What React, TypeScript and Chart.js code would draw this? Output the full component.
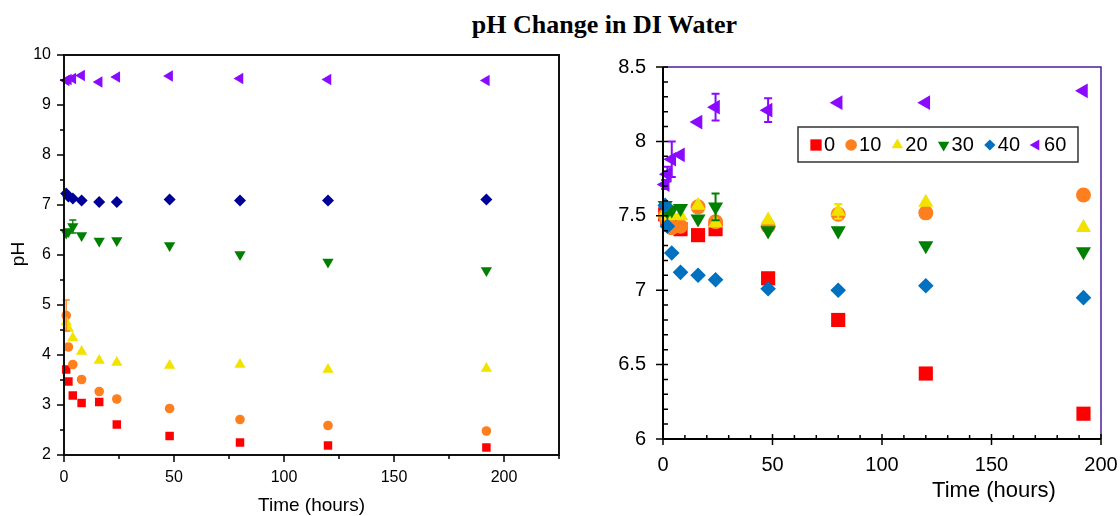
import React, { useEffect, useRef } from 'react';
import { Chart, registerables } from 'chart.js';
import { drawPoint } from 'chart.js/helpers';

Chart.register(...registerables);

// ---------- data ----------
const times = [1, 2, 4, 8, 16, 24, 48, 80, 120, 192];
const seriesNames = ['0', '10', '20', '30', '40', '60'];

// Left panel (full pH range)
const leftPh0 = [3.71, 3.47, 3.19, 3.04, 3.06, 2.61, 2.38, 2.25, 2.19, 2.15];
const leftPh10 = [4.79, 4.16, 3.81, 3.51, 3.27, 3.12, 2.93, 2.71, 2.59, 2.48];
const leftPh20 = [4.66, 4.53, 4.34, 4.07, 3.89, 3.85, 3.79, 3.81, 3.71, 3.73];
const leftPh30 = [6.44, 6.47, 6.57, 6.39, 6.28, 6.29, 6.19, 6.01, 5.86, 5.69];
const leftPh40 = [7.23, 7.17, 7.13, 7.09, 7.06, 7.06, 7.11, 7.09, 7.09, 7.11];
const leftPh60 = [9.49, 9.51, 9.53, 9.59, 9.46, 9.56, 9.58, 9.53, 9.51, 9.49];
const leftErr10 = [0.31, 0, 0, 0, 0, 0, 0, 0, 0, 0];
const leftErr30 = [0, 0, 0.13, 0, 0, 0, 0, 0, 0, 0];

// Right panel (zoomed pH range)
const rightPh0 = [7.51, 7.48, 7.44, 7.41, 7.37, 7.41, 7.08, 6.8, 6.44, 6.17];
const rightPh10 = [7.5, 7.47, 7.42, 7.43, 7.56, 7.46, 7.43, 7.51, 7.52, 7.64];
const rightPh20 = [7.52, 7.5, 7.51, 7.5, 7.57, 7.45, 7.47, 7.53, 7.59, 7.42];
const rightPh30 = [7.57, 7.53, 7.54, 7.55, 7.48, 7.56, 7.4, 7.4, 7.3, 7.26];
const rightPh40 = [7.57, 7.43, 7.25, 7.12, 7.1, 7.07, 7.01, 7.0, 7.03, 6.95];
const rightPh60 = [7.71, 7.78, 7.88, 7.91, 8.13, 8.23, 8.21, 8.26, 8.26, 8.34];
const rightErr20 = [0, 0, 0, 0, 0, 0, 0, 0.05, 0, 0];
const rightErr30 = [0, 0, 0, 0, 0, 0.09, 0, 0, 0, 0];
const rightErr60 = [0.03, 0.05, 0.12, 0, 0, 0.09, 0.08, 0, 0, 0];
const zeroErr = [0, 0, 0, 0, 0, 0, 0, 0, 0, 0];

// ---------- styles ----------
const shapes = [
  { style: 'rect', rotation: 0 },
  { style: 'circle', rotation: 0 },
  { style: 'triangle', rotation: 0 },
  { style: 'triangle', rotation: 180 },
  { style: 'rectRot', rotation: 0 },
  { style: 'triangle', rotation: 270 },
];

const SANS = '"Liberation Sans", Arial, Helvetica, sans-serif';

type Panel = {
  area: { left: number; right: number; top: number; bottom: number };
  values: number[][];
  errors: number[][];
  colors: string[];
  radii: number[];
  x: { min: number; max: number; step: number; major: number; pad: number };
  y: { min: number; max: number; step: number; major: number; pad: number };
  tickFont: number;
  open: boolean;
  xTitle: { text: string; x: number | null; y: number; size: number };
  yTitle: { text: string; x: number; y: number; size: number } | null;
  legend: boolean;
  errWidth: number;
  errCap: number;
};

const isMajor = (v: number, m: number) => Math.abs(v / m - Math.round(v / m)) < 1e-6;

const leftPanel: Panel = {
  area: { left: 64, right: 559, top: 55, bottom: 455 },
  values: [leftPh0, leftPh10, leftPh20, leftPh30, leftPh40, leftPh60],
  errors: [zeroErr, leftErr10, zeroErr, leftErr30, zeroErr, zeroErr],
  colors: ['#ff0000', '#ff7f1e', '#f2e200', '#008000', '#000099', '#8a0aff'],
  radii: [6, 4.8, 6.5, 6.5, 6, 6.5],
  x: { min: 0, max: 225, step: 25, major: 50, pad: 13 },
  y: { min: 2, max: 10, step: 0.5, major: 1, pad: 13 },
  tickFont: 16,
  open: false,
  xTitle: { text: 'Time (hours)', x: null, y: 506, size: 19 },
  yTitle: { text: 'pH', x: 19, y: 254, size: 19 },
  legend: false,
  errWidth: 1.3,
  errCap: 3.5,
};

const rightPanel: Panel = {
  area: { left: 663, right: 1101, top: 67, bottom: 439 },
  values: [rightPh0, rightPh10, rightPh20, rightPh30, rightPh40, rightPh60],
  errors: [zeroErr, zeroErr, rightErr20, rightErr30, zeroErr, rightErr60],
  colors: ['#ff0000', '#ff7f1e', '#f2e200', '#008000', '#0070c0', '#8a0aff'],
  radii: [10, 7.5, 8.7, 8.7, 7.8, 8.5],
  x: { min: 0, max: 200, step: 10, major: 50, pad: 14 },
  y: { min: 6, max: 8.5, step: 0.1, major: 0.5, pad: 17 },
  tickFont: 20,
  open: true,
  xTitle: { text: 'Time (hours)', x: 994, y: 491, size: 22 },
  yTitle: null,
  legend: true,
  errWidth: 2,
  errCap: 4,
};

function decor(p: Panel) {
  return {
    id: 'panelDecor',
    afterDatasetsDraw(chart: any) {
      const ctx = chart.ctx;
      const xs = chart.scales.x;
      const ys = chart.scales.y;
      ctx.save();
      chart.data.datasets.forEach((ds: any) => {
        const errs: number[] = ds.errors || [];
        ds.data.forEach((pt: any, j: number) => {
          const e = errs[j];
          if (!e) return;
          const x = xs.getPixelForValue(pt.x);
          const y1 = ys.getPixelForValue(pt.y + e);
          const y2 = ys.getPixelForValue(pt.y - e);
          ctx.strokeStyle = ds.borderColor;
          ctx.lineWidth = p.errWidth;
          ctx.beginPath();
          ctx.moveTo(x, y1);
          ctx.lineTo(x, y2);
          ctx.moveTo(x - p.errCap, y1);
          ctx.lineTo(x + p.errCap, y1);
          ctx.moveTo(x - p.errCap, y2);
          ctx.lineTo(x + p.errCap, y2);
          ctx.stroke();
        });
      });
      ctx.restore();
    },
    afterDraw(chart: any) {
      const ctx = chart.ctx;
      const a = chart.chartArea;
      const xs = chart.scales.x;
      const ys = chart.scales.y;
      ctx.save();
      // frame
      if (p.open) {
        ctx.strokeStyle = '#4a1f96';
        ctx.lineWidth = 1.5;
        ctx.beginPath();
        ctx.moveTo(a.left, a.top);
        ctx.lineTo(a.right, a.top);
        ctx.lineTo(a.right, a.bottom);
        ctx.stroke();
        ctx.strokeStyle = '#000';
        ctx.lineWidth = 2;
        ctx.beginPath();
        ctx.moveTo(a.left, a.top);
        ctx.lineTo(a.left, a.bottom);
        ctx.lineTo(a.right, a.bottom);
        ctx.stroke();
      } else {
        ctx.strokeStyle = '#111';
        ctx.lineWidth = 2;
        ctx.strokeRect(a.left, a.top, a.right - a.left, a.bottom - a.top);
      }
      // ticks
      ctx.strokeStyle = '#000';
      ctx.lineWidth = 1.5;
      ctx.beginPath();
      xs.ticks.forEach((t: any) => {
        const px = xs.getPixelForValue(t.value);
        const maj = isMajor(t.value, p.x.major);
        if (p.open) {
          if (maj) {
            ctx.moveTo(px, a.bottom + 6);
            ctx.lineTo(px, a.bottom - 5);
          } else {
            ctx.moveTo(px, a.bottom);
            ctx.lineTo(px, a.bottom - 4);
          }
        } else {
          ctx.moveTo(px, a.bottom);
          ctx.lineTo(px, a.bottom + (maj ? 7 : 4));
        }
      });
      ys.ticks.forEach((t: any) => {
        const py = ys.getPixelForValue(t.value);
        const maj = isMajor(t.value, p.y.major);
        if (p.open) {
          if (maj) {
            ctx.moveTo(a.left - 7, py);
            ctx.lineTo(a.left + 5, py);
          } else {
            ctx.moveTo(a.left, py);
            ctx.lineTo(a.left + 5, py);
          }
        } else {
          ctx.moveTo(a.left, py);
          ctx.lineTo(a.left - (maj ? 7 : 4), py);
        }
      });
      ctx.stroke();
      // axis titles
      ctx.fillStyle = '#000';
      ctx.textAlign = 'center';
      ctx.textBaseline = 'middle';
      ctx.font = `${p.xTitle.size}px ${SANS}`;
      const tx = p.xTitle.x == null ? (a.left + a.right) / 2 : p.xTitle.x;
      ctx.fillText(p.xTitle.text, tx, p.xTitle.y);
      if (p.yTitle) {
        ctx.save();
        ctx.translate(p.yTitle.x, p.yTitle.y);
        ctx.rotate(-Math.PI / 2);
        ctx.font = `${p.yTitle.size}px ${SANS}`;
        ctx.fillText(p.yTitle.text, 0, 0);
        ctx.restore();
      }
      // legend
      if (p.legend) {
        const boxL = 798, boxT = 127, boxR = 1078, boxB = 162;
        ctx.fillStyle = '#fff';
        ctx.fillRect(boxL, boxT, boxR - boxL, boxB - boxT);
        ctx.strokeStyle = '#333';
        ctx.lineWidth = 1.5;
        ctx.strokeRect(boxL, boxT, boxR - boxL, boxB - boxT);
        ctx.font = `20px ${SANS}`;
        ctx.textAlign = 'left';
        ctx.textBaseline = 'middle';
        const cy = (boxT + boxB) / 2 + 0.5;
        const legendRadii = [8, 5.8, 6.6, 6.6, 5.6, 6.4];
        let x = 810;
        chart.data.datasets.forEach((ds: any, i: number) => {
          ctx.fillStyle = ds.backgroundColor;
          ctx.strokeStyle = ds.backgroundColor;
          drawPoint(ctx, { pointStyle: ds.pointStyle, rotation: ds.rotation, radius: legendRadii[i], borderWidth: 0 } as any, x + 6, cy);
          ctx.fillStyle = '#000';
          ctx.fillText(ds.label, x + 14, cy);
          x += 14 + ctx.measureText(ds.label).width + 10;
        });
      }
      ctx.restore();
    },
  };
}

function buildConfig(p: Panel): any {
  return {
    type: 'scatter',
    data: {
      datasets: p.values.map((vals, i) => ({
        label: seriesNames[i],
        data: times.map((t, j) => ({ x: t, y: vals[j] })),
        backgroundColor: p.colors[i],
        borderColor: p.colors[i],
        borderWidth: 0,
        pointStyle: shapes[i].style,
        rotation: shapes[i].rotation,
        pointRadius: p.radii[i],
        pointHoverRadius: p.radii[i],
        showLine: false,
        clip: false,
        order: p.values.length - i,
        errors: p.errors[i],
      })),
    },
    options: {
      responsive: false,
      animation: false,
      events: [],
      layout: { padding: { left: 0, top: p.area.top, right: 1120 - p.area.right, bottom: 0 } },
      plugins: { legend: { display: false }, tooltip: { enabled: false }, title: { display: false } },
      scales: {
        x: {
          type: 'linear',
          position: 'bottom',
          min: p.x.min,
          max: p.x.max,
          grid: { display: false, drawTicks: false },
          border: { display: false },
          ticks: {
            stepSize: p.x.step,
            autoSkip: false,
            maxRotation: 0,
            padding: p.x.pad,
            color: '#000',
            font: { family: SANS, size: p.tickFont },
            callback: (v: number) => (isMajor(v, p.x.major) ? String(Math.round(v)) : ''),
          },
          afterFit: (s: any) => {
            s.height = 516 - p.area.bottom;
            s.paddingLeft = 0;
            s.paddingRight = 0;
          },
        },
        y: {
          type: 'linear',
          position: 'left',
          min: p.y.min,
          max: p.y.max,
          grid: { display: false, drawTicks: false },
          border: { display: false },
          ticks: {
            stepSize: p.y.step,
            autoSkip: false,
            padding: p.y.pad,
            color: '#000',
            font: { family: SANS, size: p.tickFont },
            callback: (v: number) => (isMajor(v, p.y.major) ? String(Math.round(v * 10) / 10) : ''),
          },
          afterFit: (s: any) => {
            s.width = p.area.left;
            s.paddingTop = 0;
            s.paddingBottom = 0;
          },
        },
      },
    },
    plugins: [decor(p)],
  };
}

export default function App() {
  const leftRef = useRef<HTMLCanvasElement>(null);
  const rightRef = useRef<HTMLCanvasElement>(null);
  useEffect(() => {
    const c1 = new Chart(leftRef.current as HTMLCanvasElement, buildConfig(leftPanel));
    const c2 = new Chart(rightRef.current as HTMLCanvasElement, buildConfig(rightPanel));
    return () => {
      c1.destroy();
      c2.destroy();
    };
  }, []);
  const canvasStyle: React.CSSProperties = { position: 'absolute', left: 0, top: 0, width: 1120, height: 516 };
  return (
    <div style={{ position: 'fixed', left: 0, top: 0, width: 1120, height: 516, background: '#fff', overflow: 'hidden' }}>
      <div
        style={{
          position: 'absolute',
          top: 11,
          left: 0,
          width: 1209,
          textAlign: 'center',
          fontFamily: '"Liberation Serif", "Times New Roman", serif',
          fontWeight: 'bold',
          fontSize: 26,
          lineHeight: '28px',
          color: '#000',
        }}
      >
        pH Change in DI Water
      </div>
      <canvas ref={leftRef} width={1120} height={516} style={canvasStyle} />
      <canvas ref={rightRef} width={1120} height={516} style={canvasStyle} />
    </div>
  );
}
